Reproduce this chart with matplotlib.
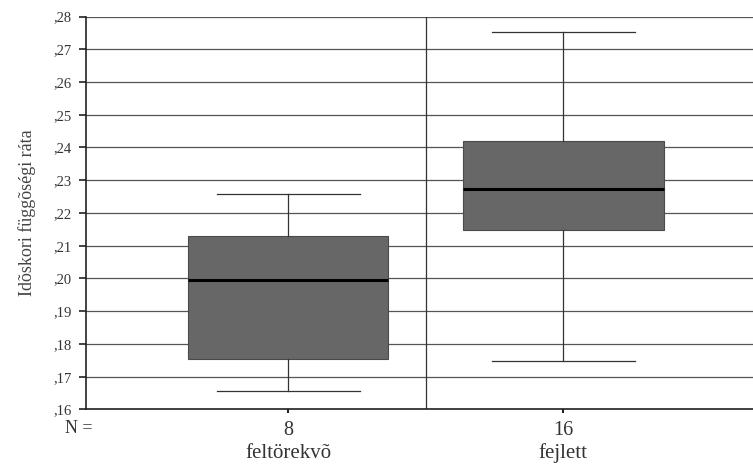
import matplotlib

matplotlib.use('Agg')
import matplotlib.pyplot as plt

# values
groups = ['feltörekvõ', 'fejlett']
counts = ['8', '16']
whisker_low = [0.1656, 0.1748]
q1 = [0.1753, 0.2148]
median = [0.1995, 0.2272]
q3 = [0.2130, 0.2420]
whisker_high = [0.2258, 0.2754]
y_ticks = [0.16, 0.17, 0.18, 0.19, 0.20, 0.21, 0.22, 0.23, 0.24, 0.25, 0.26, 0.27, 0.28]

FONT = ['Liberation Serif', 'DejaVu Serif']
BOX_COLOR = '#676767'
LINE_COLOR = '#333333'

plt.rcParams['font.family'] = FONT

fig = plt.figure(figsize=(7.53, 4.65), dpi=100)
ax = fig.add_axes([0.114, 0.1194, 0.886, 0.8451])

stats = []
for i in range(len(groups)):
    stats.append({'whislo': whisker_low[i], 'q1': q1[i], 'med': median[i],
                  'q3': q3[i], 'whishi': whisker_high[i], 'fliers': []})

positions = [1, 2]
ax.set_axisbelow(True)
for t in y_ticks:
    ax.axhline(t, color='#555555', lw=0.9, zorder=0)

ax.bxp(stats, positions=positions, widths=0.73, capwidths=0.52,
       showfliers=False, patch_artist=True,
       boxprops=dict(facecolor=BOX_COLOR, edgecolor='#4a4a4a', linewidth=0.8),
       medianprops=dict(color='black', linewidth=2.2),
       whiskerprops=dict(color=LINE_COLOR, linewidth=0.9),
       capprops=dict(color=LINE_COLOR, linewidth=0.9),
       zorder=3)

ax.axvline(1.5, color=LINE_COLOR, lw=0.9, zorder=1)

ax.set_xlim(0.265, 2.69)
ax.set_ylim(0.16, 0.28)
ax.set_yticks(y_ticks)
ax.set_yticklabels([f',{round(t * 100):02d}' for t in y_ticks], fontsize=10.5, color='#333333')
ax.set_xticks(positions)
ax.set_xticklabels(counts, fontsize=14.5, color='#333333')
ax.tick_params(axis='y', length=5, width=1.2, color='#222222', pad=5)
ax.tick_params(axis='x', length=3, width=1.5, color='#222222', pad=5)

for s in ['top', 'right']:
    ax.spines[s].set_visible(False)
ax.spines['left'].set_color('#222222')
ax.spines['bottom'].set_color('#222222')
ax.spines['left'].set_linewidth(1.2)
ax.spines['bottom'].set_linewidth(1.2)

ax.set_ylabel('Idõskori függõségi ráta', fontsize=13, color='#444444')
ax.yaxis.set_label_coords(-0.074, 0.5)

fig.text(79 / 753, 1 - 428 / 465, 'N =', fontsize=13, color='#333333', ha='center', va='center')
for pos, name in zip(positions, groups):
    xf = ax.transData.transform((pos, 0))[0] / fig.bbox.width
    fig.text(xf, 1 - 453 / 465, name, fontsize=15, color='#333333', ha='center', va='center')

fig.savefig('out.png', dpi=100, facecolor='white')
plt.close(fig)
